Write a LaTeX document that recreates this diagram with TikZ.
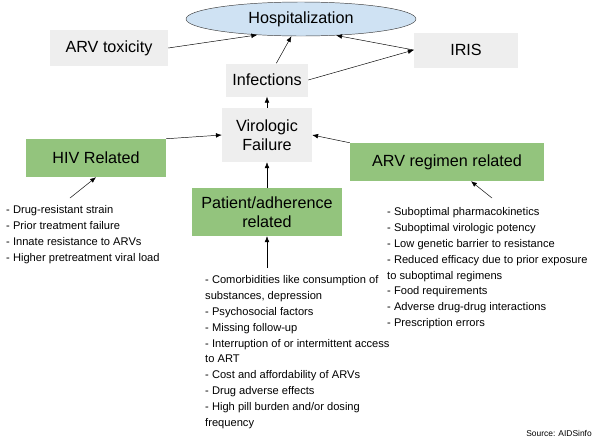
\documentclass[tikz,border=0pt]{standalone}
\usepackage{fontspec}
\setmainfont{Liberation Sans}
\usetikzlibrary{arrows.meta, shapes.geometric}
\definecolor{boxgray}{HTML}{EEEEEE}
\definecolor{boxgreen}{HTML}{93C47D}
\definecolor{ellblue}{HTML}{CFE2F3}
\begin{document}
\begin{tikzpicture}[x=0.03cm, y=-0.03cm]

\tikzset{
  gbox/.style = {rectangle, fill=boxgray, font=\fontsize{13.8}{16}\selectfont, align=center},
  grn/.style = {rectangle, fill=boxgreen, font=\fontsize{13.8}{16}\selectfont, align=center},
  lst/.style = {anchor=north west, align=left, inner sep=0pt, font=\fontsize{9.5}{13.6}\selectfont},
  arr/.style = {-{Latex[length=5pt,width=4pt]}}
}

\useasboundingbox (0,0) rectangle (602,441);

\node[ellipse, draw=black!75, fill=ellblue, minimum width=230*0.03cm, minimum height=34*0.03cm, font=\fontsize{13.8}{16}\selectfont] (h) at (301,19) {Hospitalization};

\node[gbox, minimum width=118*0.03cm, minimum height=36*0.03cm] (t) at (109,48) {ARV toxicity};
\node[gbox, minimum width=104*0.03cm, minimum height=35*0.03cm] (r) at (466,50) {IRIS};
\node[gbox, minimum width=82*0.03cm, minimum height=33*0.03cm] (i) at (267,80) {Infections};
\node[gbox, minimum width=90*0.03cm, minimum height=54*0.03cm] (v) at (267,135) {Virologic\\Failure};

\node[grn, minimum width=140*0.03cm, minimum height=38*0.03cm] (hiv) at (96,158) {HIV Related};
\node[grn, minimum width=194*0.03cm, minimum height=38*0.03cm] (reg) at (447,162) {ARV regimen related};
\node[grn, minimum width=150*0.03cm, minimum height=48*0.03cm] (pat) at (267,212) {Patient/adherence\\related};

\node[lst] (l1) at (6,205) {- Drug-resistant strain\\- Prior treatment failure\\- Innate resistance to ARVs\\- Higher pretreatment viral load};
\node[lst] (l2) at (205,275) {- Comorbidities like consumption of\\substances, depression\\- Psychosocial factors\\- Missing follow-up\\- Interruption of or intermittent access\\to ART\\- Cost and affordability of ARVs\\- Drug adverse effects\\- High pill burden and/or dosing\\frequency};
\node[lst] (l3) at (387,207) {- Suboptimal pharmacokinetics\\- Suboptimal virologic potency\\- Low genetic barrier to resistance\\- Reduced efficacy due to prior exposure\\to suboptimal regimens\\- Food requirements\\- Adverse drug-drug interactions\\- Prescription errors};
\node[anchor=east, font=\fontsize{7.2}{8}\selectfont, inner sep=0pt] (src) at (592,433) {Source: AIDSinfo};

\coordinate (c1) at (70,198);
\coordinate (c2) at (267,268);
\coordinate (c3) at (492,198);

\draw[arr] (t.east) -- (h.200);
\draw[arr] (r.west) -- (h.-25);
\draw[arr] (i.east) -- (r.west);
\draw[arr] (i) -- (h);
\draw[arr] (v) -- (i);
\draw[arr] (hiv.north east) -- (v.west);
\draw[arr] (reg.north west) -- (v.east);
\draw[arr] (pat) -- (v);
\draw[arr] (c1) -- (hiv.south);
\draw[arr] (c2) -- (pat);
\draw[arr] (c3) -- (reg);

\end{tikzpicture}
\end{document}
